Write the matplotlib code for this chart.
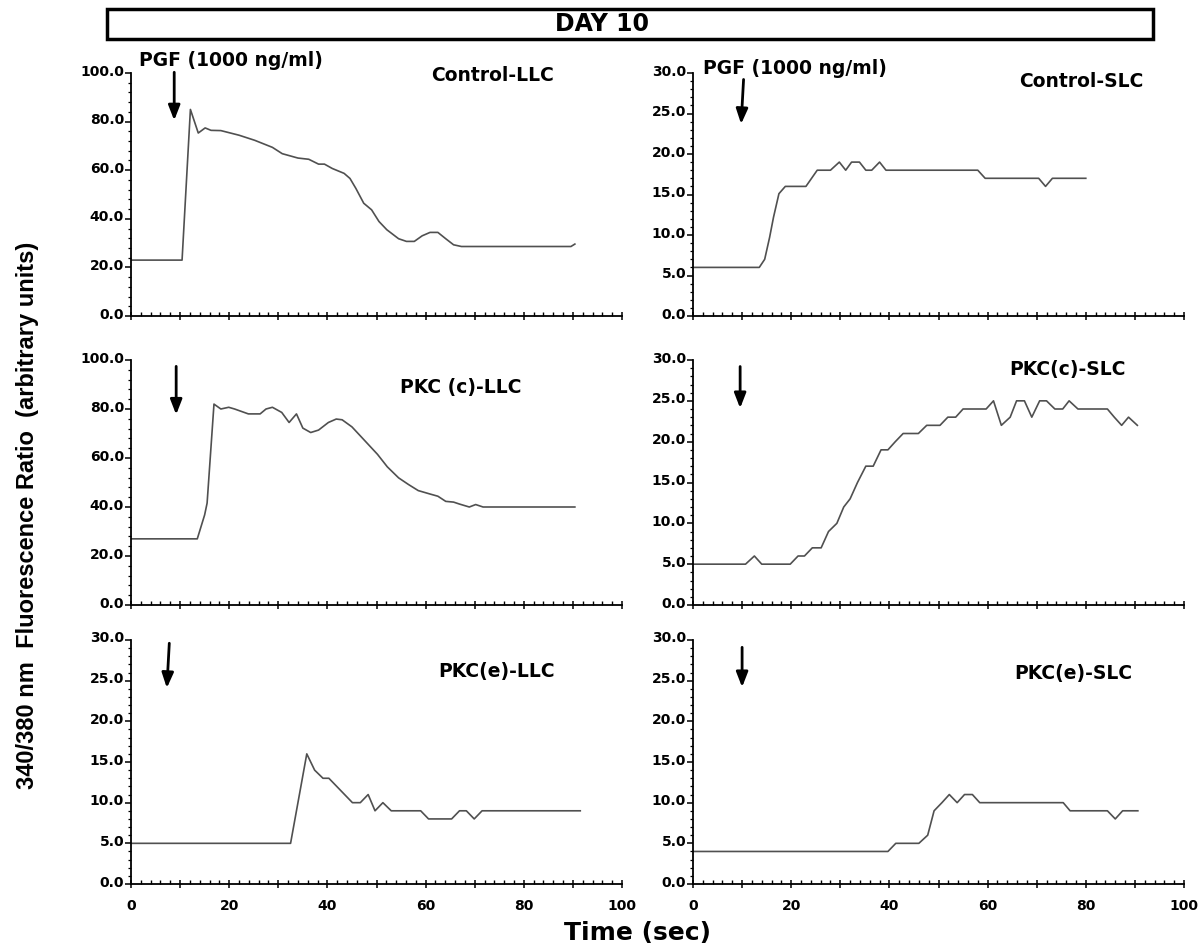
import matplotlib
matplotlib.use("Agg")
import matplotlib.pyplot as plt
import matplotlib.transforms as mtransforms
from matplotlib.patches import Rectangle
from matplotlib.ticker import MultipleLocator, FuncFormatter

# Control-LLC
ctrl_llc_t = [0, 10.4, 12.1, 13.7, 15.1, 16.3, 18.3, 22, 25.2, 28.8, 30.8, 34, 36.2, 38.2,
              39.4, 41, 43.4, 44.6, 45.8, 47.4, 49, 50.5, 52.1, 54.5, 56.1, 57.7, 59.3, 60.9,
              62.5, 64.1, 65.7, 67.3, 89.6, 90.4]
ctrl_llc_v = [23, 23, 85, 75.3, 77.4, 76.4, 76.3, 74.4, 72.3, 69.4, 66.8, 65, 64.5, 62.5,
              62.5, 60.7, 58.7, 56.6, 52.5, 46.4, 43.7, 38.9, 35.5, 31.8, 30.7, 30.7, 33, 34.4,
              34.4, 31.8, 29.3, 28.6, 28.6, 29.6]

# Control-SLC
ctrl_slc_t = [0, 13.5, 14.6, 15.6, 16.4, 17.5, 18.8, 23, 25.3, 28, 29.8, 31.1, 32.3, 33.9,
              35.2, 36.4, 38, 39.3, 58, 59.5, 70.4, 71.8, 73.2, 80]
ctrl_slc_v = [6, 6, 7, 9.7, 12.2, 15.1, 16, 16, 18, 18, 19, 18, 19, 19,
              18, 18, 19, 18, 18, 17, 17, 16, 17, 17]

# PKC (c)-LLC
pkcc_llc_t = [0, 13.5, 15, 15.5, 16.9, 18.3, 19.9, 21.1, 23.9, 26.3, 27.5, 28.8, 30.7, 32.2,
              33.7, 35, 36.6, 38.2, 40.2, 41.8, 43, 45, 47, 50.2, 52.2, 54.5, 56.5, 58.5,
              60.9, 62.5, 64.1, 65.7, 66.9, 68.9, 70.2, 71.7, 90.4]
pkcc_llc_v = [27, 27, 36.8, 41.6, 82, 80, 80.7, 80, 78, 78, 80, 80.7, 78.6, 74.5,
              78, 72.2, 70.4, 71.4, 74.5, 75.9, 75.6, 72.7, 68.4, 61.5, 56.4, 51.9, 49.2, 46.7,
              45.3, 44.4, 42.3, 42, 41.2, 40, 41, 40, 40]

# PKC(c)-SLC
pkcc_slc_t = [0, 10.7, 12.5, 14, 19.8, 21.4, 22.7, 24.3, 26.1, 27.6, 29.3, 30.7, 32, 33.5,
              35.2, 36.7, 38.3, 39.7, 41.2, 42.8, 45.9, 47.6, 50.3, 51.9, 53.5, 55, 59.7, 61.2,
              62.8, 64.6, 65.9, 67.5, 69, 70.6, 72, 73.7, 75.3, 76.6, 78.4, 84.4, 85.8, 87.3,
              88.7, 90.5]
pkcc_slc_v = [5, 5, 6, 5, 5, 6, 6, 7, 7, 9, 10, 12, 13, 15,
              17, 17, 19, 19, 20, 21, 21, 22, 22, 23, 23, 24, 24, 25,
              22, 23, 25, 25, 23, 25, 25, 24, 24, 25, 24, 24, 23, 22,
              23, 22]

# PKC(e)-LLC
pkce_llc_t = [0, 32.5, 35.8, 37.4, 39.1, 40.3, 41.9, 43.5, 45.1, 46.7, 48.3, 49.7, 51.3, 53,
              59, 60.6, 65.3, 66.9, 68.3, 69.9, 71.5, 91.5]
pkce_llc_v = [5, 5, 16, 14, 13, 13, 12, 11, 10, 10, 11, 9, 10, 9,
              9, 8, 8, 9, 9, 8, 9, 9]

# PKC(e)-SLC
pkce_slc_t = [0, 39.7, 41.3, 46, 47.8, 49.1, 50.7, 52.2, 53.8, 55.3, 56.9, 58.4, 75.4, 76.8,
              84.4, 86, 87.5, 90.6]
pkce_slc_v = [4, 4, 5, 5, 6, 9, 10, 11, 10, 11, 11, 10, 10, 9,
              9, 8, 9, 9]

panel_names = ["Control-LLC", "Control-SLC", "PKC (c)-LLC", "PKC(c)-SLC",
               "PKC(e)-LLC", "PKC(e)-SLC"]
y_max = [100, 30, 100, 30, 30, 30]
# arrow (x top, y top, x tip, y tip) in data units
arrows = [(8.8, 100.3, 8.8, 80.5), (10.3, 29.2, 9.8, 23.7), (9.2, 97.4, 9.2, 77.7),
          (9.6, 29.2, 9.6, 24.1), (7.8, 29.6, 7.3, 24.1), (10.0, 29.1, 10.0, 24.2)]
label_pos = [(0.736, 0.988), (0.79, 0.967), (0.671, 0.889), (0.763, 0.96),
             (0.744, 0.869), (0.774, 0.861)]

series = [(ctrl_llc_t, ctrl_llc_v), (ctrl_slc_t, ctrl_slc_v), (pkcc_llc_t, pkcc_llc_v),
          (pkcc_slc_t, pkcc_slc_v), (pkce_llc_t, pkce_llc_v), (pkce_slc_t, pkce_slc_v)]

W, H = 1199, 947
fig = plt.figure(figsize=(W / 100, H / 100), dpi=100)
plt.rcParams["font.family"] = "DejaVu Sans"

col_x = [131, 693]
col_w = 491
rows = [(73, 316), (360, 605), (640, 884)]
lift = mtransforms.ScaledTranslation(0, 3 / 100, fig.dpi_scale_trans)

for i, (name, (t, v)) in enumerate(zip(panel_names, series)):
    r, c = divmod(i, 2)
    top, bot = rows[r]
    ax = fig.add_axes([col_x[c] / W, 1 - bot / H, col_w / W, (bot - top) / H])
    ax.plot(t, v, color="#505050", lw=1.2)
    ym = y_max[i]
    ax.set_xlim(0, 100)
    ax.set_ylim(0, ym)
    for s in ("top", "right"):
        ax.spines[s].set_visible(False)
    for s in ("left", "bottom"):
        ax.spines[s].set_linewidth(1.3)
    ax.xaxis.set_major_locator(MultipleLocator(10))
    ax.xaxis.set_minor_locator(MultipleLocator(2))
    ax.yaxis.set_major_locator(MultipleLocator(20 if ym == 100 else 5))
    ax.yaxis.set_minor_locator(MultipleLocator(4 if ym == 100 else 1))
    ax.yaxis.set_major_formatter(FuncFormatter(lambda y, p: f"{y:.1f}"))
    if r == 2:
        ax.xaxis.set_major_formatter(
            FuncFormatter(lambda x, p: f"{x:.0f}" if int(round(x)) % 20 == 0 else ""))
    else:
        ax.set_xticklabels([])
    ax.tick_params(axis="x", which="major", direction="inout", length=6, width=1.1,
                   labelsize=10, pad=8)
    ax.tick_params(axis="x", which="minor", direction="in", length=3, width=1.0)
    ax.tick_params(axis="y", which="major", direction="out", length=4, width=1.1,
                   labelsize=10, pad=1)
    ax.tick_params(axis="y", which="minor", direction="out", length=2.5, width=0.9)
    for lab in ax.get_xticklabels():
        lab.set_fontweight("bold")
    for lab in ax.get_yticklabels():
        lab.set_fontweight("bold")
        lab.set_transform(lab.get_transform() + lift)
    x0, y0, x1, y1 = arrows[i]
    ax.annotate("", xy=(x1, y1), xytext=(x0, y0), annotation_clip=False,
                arrowprops=dict(arrowstyle="-|>,head_length=0.9,head_width=0.35",
                                color="black", lw=2.0, shrinkA=0, shrinkB=0))
    lx, ly = label_pos[i]
    ax.text(lx, ly, name, transform=ax.transAxes, ha="center", va="center",
            fontsize=13.5, fontweight="bold")
    if r == 0:
        ax.text(0.016 if c == 0 else 0.02, 1.053 if c == 0 else 1.02, "PGF (1000 ng/ml)",
                transform=ax.transAxes, ha="left", va="center", fontsize=13.5,
                fontweight="bold")

# header box
fig.add_artist(Rectangle((107 / W, 1 - 39 / H), (1153 - 107) / W, 30 / H,
                         transform=fig.transFigure, fill=False, lw=2.5, ec="black"))
fig.text(602 / W, 1 - 24 / H, "DAY 10", ha="center", va="center", fontsize=17,
         fontweight="bold")

fig.text(637 / W, 1 - 933 / H, "Time (sec)", ha="center", va="center", fontsize=18,
         fontweight="bold")
fig.text(28 / W, 1 - 515 / H, "340/380 nm  Fluorescence Ratio  (arbitrary units)",
         rotation=90, ha="center", va="center", fontsize=17, fontweight="bold",
         family=["Liberation Sans Narrow", "Liberation Sans"])

fig.savefig("out.png", dpi=100, facecolor="white")
